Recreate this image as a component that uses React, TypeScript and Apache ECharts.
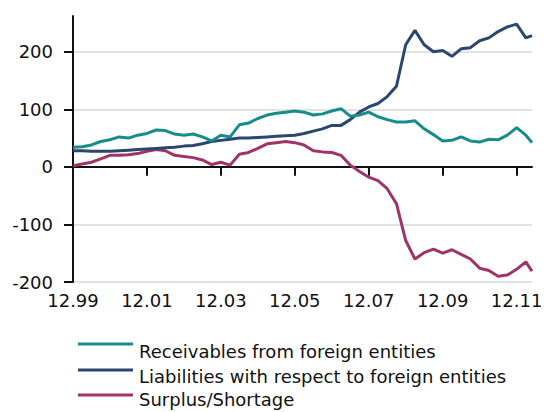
import React, { useEffect, useRef } from "react";
import * as echarts from "echarts";

// months elapsed since December 1999
const months = [
  0, 3, 6, 9, 12, 15, 18, 21, 24, 27, 30, 33, 36, 39, 42, 45, 48, 51, 54, 57,
  60, 63, 66, 69, 72, 75, 78, 81, 84, 87, 90, 93, 96, 99, 102, 105, 108, 111,
  114, 117, 120, 123, 126, 129, 132, 135, 138, 141, 144, 147, 149,
];

const receivables = [
  34, 35, 38, 44, 47, 52, 50, 55, 58, 64, 63, 57, 55, 57, 52, 45, 55, 52, 73, 76,
  84, 90, 93, 95, 97, 95, 90, 92, 97, 101, 88, 90, 95, 87, 82, 78, 78, 80,
  66, 56, 45, 46, 52, 45, 43, 48, 47, 55, 68, 55, 42,
];

const liabilities = [
  28, 28, 27, 27, 27, 28, 29, 30, 31, 32, 33, 34, 36, 37, 40, 44, 46, 48, 50, 50,
  51, 52, 53, 54, 55, 58, 62, 66, 72, 72, 82, 95, 104, 110, 122, 140, 212, 237,
  212, 200, 202, 192, 205, 207, 219, 224, 235, 243, 248, 224, 228,
];

const surplus = [
  2, 5, 8, 14, 20, 20, 21, 23, 27, 30, 28, 20, 18, 16, 12, 4, 8, 3, 22, 25,
  32, 40, 42, 44, 42, 38, 28, 26, 25, 20, 3, -8, -18, -24, -38, -64, -128, -160,
  -149, -143, -150, -144, -152, -160, -176, -180, -190, -188, -178, -165, -181,
];

const seriesNames = [
  "Receivables from foreign entities",
  "Liabilities with respect to foreign entities",
  "Surplus/Shortage",
];
const seriesColors = ["#168d8b", "#2b4670", "#a0336a"];

const yTicks = [-200, -100, 0, 100, 200];
const xTicks = [0, 24, 48, 72, 96, 120, 144];

const FONT = "DejaVu Sans";

export default function App() {
  const ref = useRef<HTMLDivElement>(null);
  useEffect(() => {
    document.body.style.margin = "0";
    if (!ref.current) return;
    const chart = echarts.init(ref.current, undefined, { renderer: "svg" });
    const values = [receivables, liabilities, surplus];
    const legendRowsLine = [344, 370, 395];
    const legendRowsText = [351, 376, 399];
    const graphics: any[] = [];
    seriesNames.forEach((name, i) => {
      graphics.push({
        type: "line",
        shape: { x1: 78, y1: legendRowsLine[i], x2: 133, y2: legendRowsLine[i] },
        style: { stroke: seriesColors[i], lineWidth: 3 },
      });
      graphics.push({
        type: "text",
        x: 139,
        y: legendRowsText[i],
        style: {
          text: name,
          fill: "#111111",
          font: `18px "${FONT}"`,
          verticalAlign: "middle",
          align: "left",
        },
      });
    });
    const fmtX = (v: number) => {
      const yr = (1999 + Math.round(v / 12)) % 100;
      return "12." + String(yr).padStart(2, "0");
    };
    chart.setOption({
      animation: false,
      grid: {
        left: 73,
        right: 18,
        top: 16,
        bottom: 130,
        containLabel: false,
        outerBoundsMode: "none",
      },
      xAxis: [
        {
          type: "value",
          min: 0,
          max: 149,
          interval: 24,
          position: "bottom",
          axisLine: { show: false, onZero: false },
          axisTick: { show: false },
          splitLine: { show: false },
          axisLabel: {
            customValues: xTicks,
            formatter: fmtX,
            fontFamily: FONT,
            fontSize: 18,
            color: "#111111",
            margin: 9,
          },
        },
        {
          type: "value",
          min: 0,
          max: 149,
          interval: 24,
          position: "top",
          axisLine: { show: true, onZero: true, lineStyle: { color: "#111111", width: 2 } },
          axisTick: {
            show: true,
            inside: true,
            length: 9,
            customValues: xTicks,
            lineStyle: { color: "#111111", width: 2 },
          },
          axisLabel: { show: false },
          splitLine: { show: false },
        },
      ],
      yAxis: {
        type: "value",
        min: -200,
        max: 262,
        interval: 100,
        axisLine: { show: true, onZero: false, lineStyle: { color: "#111111", width: 2 } },
        axisTick: {
          show: true,
          length: 9,
          customValues: yTicks,
          lineStyle: { color: "#111111", width: 2 },
        },
        axisLabel: {
          customValues: yTicks,
          fontFamily: FONT,
          fontSize: 18,
          color: "#111111",
          margin: 20,
        },
        splitLine: { show: true, lineStyle: { color: "#d9d9d9", width: 1.5 } },
      },
      series: seriesNames.map((name, i) => ({
        name,
        type: "line",
        xAxisIndex: 0,
        data: months.map((m, j) => [m, values[i][j]]),
        showSymbol: false,
        symbol: "none",
        lineStyle: { color: seriesColors[i], width: 3 },
        itemStyle: { color: seriesColors[i] },
        z: 3 - i,
      })),
      graphic: graphics,
    });
    return () => chart.dispose();
  }, []);
  return <div ref={ref} style={{ width: 550, height: 412 }} />;
}
